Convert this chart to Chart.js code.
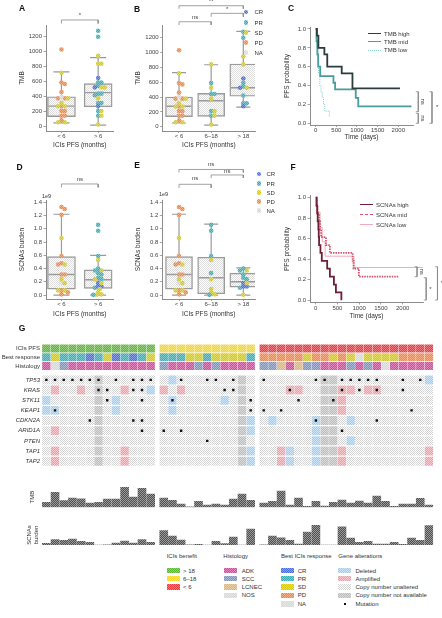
<!DOCTYPE html>
<html><head><meta charset="utf-8">
<script src="https://cdn.jsdelivr.net/npm/chart.js@4.4.1/dist/chart.umd.min.js"></script>
<style>
html,body{margin:0;padding:0;background:#fff}
body{position:relative;width:442px;height:618px;overflow:hidden;font-family:"Liberation Sans",Arial,sans-serif;color:#333}
canvas{position:absolute}
.t{position:absolute;white-space:nowrap;font-size:6px;line-height:1;color:#333}
.sw{position:absolute}
</style></head><body>
<script>
// ================= DATA =================
const pfsLabels = ['> 18', '6–18', '< 6'];
const pfsGroup = [0,0,0,0,0,0,0,0,0,0,0,0,0, 1,1,1,1,1,1,1,1,1,1,1, 2,2,2,2,2,2,2,2,2,2,2,2,2,2,2,2,2,2,2,2];
const bestResponse = ['PR','SD','PR','PR','PR','CR','PR','SD','CR','PR','CR','PR','SD',
  'PR','PR','PR','SD','SD','PR','SD','SD','SD','SD','PR',
  'PD','PD','PD','PD','PD','SD','PD','PD','SD','PD','SD','NA','SD','SD','SD','SD','PD','PD','PD','PD'];
const histology = ['ADK','NOS','SCC','ADK','ADK','ADK','ADK','ADK','ADK','ADK','ADK','ADK','ADK',
  'SCC','ADK','ADK','ADK','SCC','ADK','SCC','ADK','ADK','ADK','ADK',
  'SCC','SCC','LCNEC','ADK','LCNEC','SCC','SCC','ADK','ADK','ADK','SCC','ADK','SCC','ADK','NOS','ADK','ADK','ADK','ADK','ADK'];
const geneNames = ['TP53','KRAS','STK11','KEAP1','CDKN2A','ARID1A','PTEN','TAP1','TAP2'];
// copy number: U unaltered, D deleted, A amplified, N not available
const cnTP53   = 'UUUUUUNUUUUUU'+'UDUUUUUUUNU'+'UUUUUUUNNUUUUUUUUUUD';
const cnKRAS   = 'UAUUAUNUUAUUD'+'AUAUUUUUUNU'+'UUUAAUUNNAAUAAUUUUUU';
const cnSTK11  = 'DUUUUUNUDUUUU'+'UDUUUUUDUNU'+'UUUUUUUNNAUUUUUUUUUU';
const cnKEAP1  = 'DDUUUUNUDUUUU'+'UDUUUUUUUNU'+'UUUUUUUNNAUUUUUUUUUU';
const cnCDKN2A = 'UUUUUUNUUUUUU'+'UUUUUUUUUND'+'UDUUUUDNNUDUUUUUUUUU';
const cnARID1A = 'UAUUUUNUUUUUU'+'UUUUUUUUUND'+'UUUUUUDNNUUUUUUUUUUU';
const cnPTEN   = 'UUUUUUNUUUUUU'+'UUUUUUUUUNU'+'UUUUUUDNNUDUUUUUUUUU';
const cnTAP1   = 'UAUUUUNUUAUUU'+'UUUUUUUUUND'+'UUADUUDNNAUUUUUUUUUA';
const cnTAP2   = 'UAUUUUNUUAUUU'+'UUUUUUUUUND'+'UUADUUDNNAUUUUUUUUUA';
// mutated patients (column index)
const mutTP53   = [0,1,2,3,4,5,6,8,10,11,12,15,18,19,21,24,30,31,33,34,35,36,37,40,42];
const mutKRAS   = [6,7,10,11,20,21,27,33,35,37,40];
const mutSTK11  = [7,11,14,23,28,32];
const mutKEAP1  = [1,23,24,26,41];
const mutCDKN2A = [5,10,11,30,37];
const mutARID1A = [11,13,15,33];
const mutPTEN   = [18];
const mutTAP1   = [];
const mutTAP2   = [];
const tmb = [315,945,420,590,545,275,315,525,525,1280,650,1200,840,
  588,441,210,30,378,147,210,147,525,840,441,
  273,378,1030,147,588,60,378,84,315,462,273,399,273,720,378,60,210,210,570,147];
const scna = [0.11,0.37,0.31,0.40,0.24,0.18,null,0.005,0.13,0.26,0.13,0.37,0.18,
  0.97,0.59,0.33,0.01,0.04,0.003,0.24,0.09,0.53,null,1.06,
  0.01,0.59,0.48,0.31,0.07,0.86,1.33,null,null,1.21,0.46,0.18,0.24,0.07,0.07,0.18,0.04,0.46,0.31,1.30];
// box statistics
const catsTwo = ['< 6','> 6'];
const catsThree = ['< 6','6–18','> 18'];
const tmbTwoLo=[50,20], tmbTwoQ1=[135,265], tmbTwoMed=[275,455], tmbTwoQ3=[400,575], tmbTwoHi=[730,920];
const tmbThreeLo=[50,20,265], tmbThreeQ1=[135,140,410], tmbThreeMed=[275,350,525], tmbThreeQ3=[400,450,845], tmbThreeHi=[730,835,1285];
const scnaTwoLo=[0,0], scnaTwoQ1=[0.09,0.10], scnaTwoMed=[0.31,0.23], scnaTwoQ3=[0.58,0.38], scnaTwoHi=[1.22,0.60];
const scnaThreeLo=[0,0,0], scnaThreeQ1=[0.09,0.02,0.12], scnaThreeMed=[0.31,0.26,0.20], scnaThreeQ3=[0.58,0.57,0.33], scnaThreeHi=[1.22,1.07,0.41];
const tmbTicks=[0,200,400,600,800,1000,1200];
const scnaTicks=[0,0.2,0.4,0.6,0.8,1.0,1.2,1.4];
const survTicks=[0,0.2,0.4,0.6,0.8,1.0];
const timeTicks=[0,500,1000,1500,2000];
// Kaplan-Meier curves
const tmbHighTime=[0,30,65,210,280,630,890,2040];
const tmbHighSurv=[1,0.93,0.8,0.73,0.6,0.53,0.37,0.37];
const tmbMidTime=[0,20,40,60,110,430,470,970,1030,2320];
const tmbMidSurv=[1,0.87,0.73,0.6,0.5,0.43,0.36,0.27,0.18,0.18];
const tmbLowTime=[0,15,30,50,70,100,130,160,190,220,330,350];
const tmbLowSurv=[1,0.9,0.8,0.67,0.53,0.4,0.33,0.27,0.2,0.13,0.07,0.07];
const scnaHighTime=[0,20,35,46,62,70,78,109,140,264,326,419,465,590];
const scnaHighSurv=[1,0.923,0.846,0.769,0.692,0.615,0.538,0.462,0.385,0.308,0.231,0.154,0.077,0];
const scnaMidTime=[0,20,40,80,100,125,235,326,850,870,992,1922];
const scnaMidSurv=[1,0.923,0.846,0.769,0.692,0.615,0.538,0.462,0.385,0.308,0.231,0.231];
const scnaLowTime=[0,40,100,150,217,880,2465];
const scnaLowSurv=[1,0.86,0.71,0.57,0.43,0.32,0.32];

// ================= STYLE =================
const FONT='"Liberation Sans", Arial, Helvetica, sans-serif';
Chart.defaults.font.family=FONT;
Chart.defaults.color='#444';
Chart.defaults.animation=false;
Chart.defaults.events=[];
Chart.defaults.plugins.legend.display=false;
Chart.defaults.plugins.tooltip.enabled=false;
const AX='#8c8c8c', BOXC='#9a9a9a';
const pfsColors=['#5db536','#f3d52c','#e8373d'];
const respColors={CR:'#4a6fd8',PR:'#3aaeb3',SD:'#d5ca10',PD:'#ef8743',NA:'#d8d8d8'};
const histColors={ADK:'#d5499c',SCC:'#7d93c0',LCNEC:'#ddb574',NOS:'#d8d8d8'};

function mix(hex,t){const n=parseInt(hex.slice(1),16);let r=n>>16,g=(n>>8)&255,b=n&255;
  r=Math.round(r+(255-r)*t);g=Math.round(g+(255-g)*t);b=Math.round(b+(255-b)*t);
  return '#'+((1<<24)|(r<<16)|(g<<8)|b).toString(16).slice(1);}
const patCache={};
function pat(c1,c2){const k=c1+c2;if(!patCache[k]){const cv=document.createElement('canvas');cv.width=cv.height=2;
  const x=cv.getContext('2d');x.fillStyle=c1;x.fillRect(0,0,2,2);x.fillStyle=c2;x.fillRect(0,0,1,1);x.fillRect(1,1,1,1);
  patCache[k]={p:x.createPattern(cv,'repeat'),url:cv.toDataURL()};}return patCache[k];}
function cpat(c){return pat(c,mix(c,0.35));}
const cnPat={U:pat('#ffffff','#d2d2d2'),D:pat('#9ecdf1','#cde5f8'),A:pat('#f3999f','#f9cbd0'),N:pat('#bdbdbd','#dadada')};
const boxPat=pat('#ffffff','#dddddd').p;
const barPat=pat('#4f4f4f','#9a9a9a');

// ================= HELPERS =================
function mkCanvas(l,t,w,h){const c=document.createElement('canvas');c.width=w;c.height=h;
  c.style.left=l+'px';c.style.top=t+'px';c.style.width=w+'px';c.style.height=h+'px';document.body.appendChild(c);return c;}
function geom(o){return {padding:{left:0,top:o.area.t-o.t,right:o.l+o.w-o.area.r,bottom:0},yW:o.area.l-o.l,xH:o.t+o.h-o.area.b};}
function txt(x,y,s,o={}){const d=document.createElement('div');d.className='t';d.textContent=s;
  d.style.left=x+'px';d.style.top=y+'px';
  d.style.transform=o.align==='center'?'translate(-50%,-50%)':o.align==='right'?'translate(-100%,-50%)':'translateY(-50%)';
  if(o.size)d.style.fontSize=o.size+'px';if(o.bold)d.style.fontWeight='bold';if(o.italic)d.style.fontStyle='italic';
  if(o.color)d.style.color=o.color;document.body.appendChild(d);return d;}
function box(x,y,w,h,css){const d=document.createElement('div');d.className='sw';d.style.left=x+'px';d.style.top=y+'px';
  d.style.width=w+'px';d.style.height=h+'px';Object.assign(d.style,css);document.body.appendChild(d);return d;}
const notesPlugin={id:'notes',afterDatasetsDraw(chart,args,opts){const ctx=chart.ctx,xs=chart.scales.x,ys=chart.scales.y;
  (opts.items||[]).forEach(n=>{ctx.save();ctx.font=(n.size||6.5)+'px '+FONT;ctx.fillStyle='#444';ctx.textAlign='center';ctx.textBaseline='middle';
    ctx.translate(xs.getPixelForValue(n.x),ys.getPixelForValue(n.y));if(n.rot)ctx.rotate(n.rot);ctx.fillText(n.text,0,0);ctx.restore();});}};
function swarm(vals,pxY,pxX,r){const placed=[],out=new Array(vals.length);
  const order=vals.map((v,i)=>i).sort((a,b)=>vals[b]-vals[a]);
  for(const i of order){const y=vals[i]*pxY;let off=0;
    for(let n=0;n<30;n++){const c=n===0?0:(n%2?1:-1)*Math.ceil(n/2)*r*0.7;
      if(placed.every(p=>Math.hypot(p.x-c,p.y-y)>=r*1.15)){off=c;break;}}
    placed.push({x:off,y});out[i]=off/pxX;}
  return out;}
function yAxis(o,G,ticks,fmt,title,tpad){return {type:'linear',min:o.ymin,max:o.ymax,
  afterFit:s=>{s.width=G.yW;},afterBuildTicks:s=>{s.ticks=ticks.map(v=>({value:v}));},
  border:{display:true,color:AX,dash:[1,1],width:1},
  grid:{display:true,drawOnChartArea:false,drawTicks:true,tickLength:2.5,color:AX,lineWidth:0.8},
  ticks:{font:{size:6},color:'#444',padding:1.5,callback:fmt,autoSkip:false},
  title:{display:true,text:title,font:{size:6.5},color:'#333',padding:{top:tpad,bottom:0}}};}
function xAxis(o,G,ticks,fmt,title,bpad){return {type:'linear',min:o.xmin,max:o.xmax,offset:false,
  afterFit:s=>{s.height=G.xH;},afterBuildTicks:s=>{s.ticks=ticks.map(v=>({value:v}));},
  border:{display:true,color:AX,dash:[1,1],width:1},
  grid:{display:true,offset:false,drawOnChartArea:false,drawTicks:true,tickLength:2,color:AX,lineWidth:0.8},
  ticks:{font:{size:6},color:'#444',padding:0,callback:fmt,autoSkip:false,maxRotation:0},
  title:{display:true,text:title,font:{size:6.5},color:'#333',padding:{top:0,bottom:bpad}}};}

function boxChart(o){
  const cv=mkCanvas(o.l,o.t,o.w,o.h),G=geom(o);
  const pxY=(o.area.b-o.area.t)/(o.ymax-o.ymin),pxX=(o.area.r-o.area.l)/(o.xmax-o.xmin);
  const ds=[];
  const wh=[];o.lo.forEach((v,i)=>{wh.push({x:i,y:v},{x:i,y:o.hi[i]},{x:i,y:null});});
  ds.push({type:'line',data:wh,borderColor:BOXC,borderWidth:1.2,pointRadius:0,spanGaps:false,order:6});
  ds.push({type:'bar',data:o.q1.map((v,i)=>({x:i,y:[v,o.q3[i]]})),backgroundColor:boxPat,borderColor:BOXC,borderWidth:1.4,borderSkipped:false,barThickness:o.boxW,order:5});
  ds.push({type:'scatter',data:o.med.map((v,i)=>({x:i,y:v})),pointStyle:'line',pointRadius:o.boxW/2-1,pointBorderColor:BOXC,pointBorderWidth:1.4,order:4});
  ds.push({type:'scatter',data:[...o.lo.map((v,i)=>({x:i,y:v})),...o.hi.map((v,i)=>({x:i,y:v}))],pointStyle:'line',pointRadius:o.capW/2,pointBorderColor:BOXC,pointBorderWidth:1.2,order:4});
  const pts=[],cols=[];
  o.groups.forEach((idx,gi)=>{const ids=idx.filter(i=>o.values[i]!==null);const vals=ids.map(i=>o.values[i]);
    const offs=swarm(vals,pxY,pxX,2.4);
    ids.forEach((pi,k)=>{pts.push({x:gi+offs[k],y:o.values[pi]});cols.push(cpat(respColors[bestResponse[pi]]).p);});});
  ds.push({type:'scatter',data:pts,pointRadius:2.3,pointBackgroundColor:cols,pointBorderWidth:0,order:1});
  const notes=[];
  o.brackets.forEach(b=>{ds.push({type:'line',data:[{x:b.from,y:b.drop},{x:b.from,y:b.y},{x:b.to,y:b.y},{x:b.to,y:b.drop}],
    borderColor:'#8a8a8a',borderWidth:0.8,pointRadius:0,clip:false,order:0});
    notes.push({x:(b.from+b.to)/2,y:b.ty,text:b.text,size:6});});
  new Chart(cv,{type:'scatter',data:{datasets:ds},plugins:[notesPlugin],
    options:{responsive:false,maintainAspectRatio:false,devicePixelRatio:1,animation:false,layout:{padding:G.padding},
      plugins:{notes:{items:notes}},
      scales:{x:xAxis(o,G,o.cats.map((c,i)=>i),v=>o.cats[v],'ICIs PFS (months)',o.xpad),
              y:yAxis(o,G,o.yticks,o.yfmt,o.ytitle,o.ytpad)}}});
}
function kmChart(o){
  const cv=mkCanvas(o.l,o.t,o.w,o.h),G=geom(o);
  const ds=o.series.map(s=>({type:'line',data:s.t.map((t,i)=>({x:t,y:s.s[i]})),stepped:'before',borderColor:s.color,
    borderWidth:s.width,borderDash:s.dash||[],pointRadius:0,fill:false,order:2}));
  const notes=[];
  o.brackets.forEach(b=>{ds.push({type:'line',data:[{x:b.x-b.tk,y:b.y0},{x:b.x,y:b.y0},{x:b.x,y:b.y1},{x:b.x-b.tk,y:b.y1}],
    borderColor:'#8a8a8a',borderWidth:0.8,pointRadius:0,clip:false,order:0});
    notes.push({x:b.tx,y:b.ty,text:b.text,rot:b.text==='ns'?Math.PI/2:0,size:6});});
  new Chart(cv,{type:'scatter',data:{datasets:ds},plugins:[notesPlugin],
    options:{responsive:false,maintainAspectRatio:false,devicePixelRatio:1,animation:false,layout:{padding:G.padding},
      plugins:{notes:{items:notes}},
      scales:{x:xAxis(o,G,timeTicks,v=>String(v),'Time (days)',o.xpad),
              y:yAxis(o,G,survTicks,v=>v.toFixed(1),'PFS probability',o.ytpad)}}});
}

// ================= PANELS A, B, D, E =================
const idxLt6=pfsGroup.map((g,i)=>g===2?i:-1).filter(i=>i>=0);
const idx618=pfsGroup.map((g,i)=>g===1?i:-1).filter(i=>i>=0);
const idxGt18=pfsGroup.map((g,i)=>g===0?i:-1).filter(i=>i>=0);
const idxGt6=[...idxGt18,...idx618];
boxChart({l:0,t:0,w:128,h:150,area:{l:46,r:116,t:25,b:131},xmin:-0.421,xmax:1.421,ymin:-57,ymax:1356,
  cats:catsTwo,lo:tmbTwoLo,q1:tmbTwoQ1,med:tmbTwoMed,q3:tmbTwoQ3,hi:tmbTwoHi,boxW:28,capW:16,
  values:tmb,groups:[idxLt6,idxGt6],yticks:tmbTicks,yfmt:v=>String(v),ytitle:'TMB',ytpad:18,xpad:0.5,
  brackets:[{from:0,to:1,y:1423,drop:1376,ty:1482,text:'*'}]});
boxChart({l:128,t:0,w:152,h:150,area:{l:162.7,r:255,t:25,b:131},xmin:-0.507,xmax:2.364,ymin:-58,ymax:1371,
  cats:catsThree,lo:tmbThreeLo,q1:tmbThreeQ1,med:tmbThreeMed,q3:tmbThreeQ3,hi:tmbThreeHi,boxW:27,capW:14,
  values:tmb,groups:[idxLt6,idx618,idxGt18],yticks:tmbTicks,yfmt:v=>String(v),ytitle:'TMB',ytpad:6,xpad:0.5,
  brackets:[{from:0,to:1,y:1415,drop:1371,ty:1478,text:'ns'},{from:1,to:2,y:1528,drop:1482,ty:1585,text:'*'},{from:0,to:2,y:1631,drop:1590,ty:1688,text:'**'}]});
boxChart({l:0,t:150,w:128,h:170,area:{l:46,r:116,t:200,b:299},xmin:-0.421,xmax:1.421,ymin:-0.06,ymax:1.435,
  cats:catsTwo,lo:scnaTwoLo,q1:scnaTwoQ1,med:scnaTwoMed,q3:scnaTwoQ3,hi:scnaTwoHi,boxW:28,capW:16,
  values:scna,groups:[idxLt6,idxGt6],yticks:scnaTicks,yfmt:v=>v.toFixed(1),ytitle:'SCNAs burden',ytpad:18,xpad:1.7,
  brackets:[{from:0,to:1,y:1.677,drop:1.624,ty:1.752,text:'ns'}]});
boxChart({l:128,t:150,w:152,h:170,area:{l:162.3,r:255,t:200,b:299},xmin:-0.52,xmax:2.364,ymin:-0.06,ymax:1.435,
  cats:catsThree,lo:scnaThreeLo,q1:scnaThreeQ1,med:scnaThreeMed,q3:scnaThreeQ3,hi:scnaThreeHi,boxW:27,capW:14,
  values:scna,groups:[idxLt6,idx618,idxGt18],yticks:scnaTicks,yfmt:v=>v.toFixed(1),ytitle:'SCNAs burden',ytpad:6,xpad:1.7,
  brackets:[{from:0,to:1,y:1.672,drop:1.616,ty:1.758,text:'ns'},{from:1,to:2,y:1.813,drop:1.767,ty:1.873,text:'ns'},{from:0,to:2,y:1.896,drop:1.85,ty:1.971,text:'ns'}]});

// ================= PANELS C, F =================
kmChart({l:280,t:0,w:162,h:150,area:{l:310,r:413,t:27,b:125},xmin:-138,xmax:2356,ymin:-0.018,ymax:1.021,ytpad:3,xpad:9,
  series:[{t:tmbHighTime,s:tmbHighSurv,color:'#2c3c3c',width:1.8},
          {t:tmbMidTime,s:tmbMidSurv,color:'#4b9d9d',width:1.8},
          {t:tmbLowTime,s:tmbLowSurv,color:'#86cccc',width:1,dash:[1,1]}],
  brackets:[{x:2484,tk:60,y0:0.335,y1:0.123,tx:2600,ty:0.229,text:'ns'},
            {x:2484,tk:60,y0:0.106,y1:0.0,tx:2600,ty:0.053,text:'ns'},
            {x:2816,tk:60,y0:0.335,y1:0.0,tx:2940,ty:0.168,text:'*'}]});
kmChart({l:280,t:150,w:162,h:170,area:{l:310,r:423,t:195.5,b:302.5},xmin:-131,xmax:2467,ymin:-0.021,ymax:1.021,ytpad:3,xpad:0,
  series:[{t:scnaHighTime,s:scnaHighSurv,color:'#6c2036',width:1.8},
          {t:scnaMidTime,s:scnaMidSurv,color:'#d4526b',width:1.8,dash:[1.5,1]},
          {t:scnaLowTime,s:scnaLowSurv,color:'#f2a9b8',width:1}],
  brackets:[{x:2330,tk:55,y0:0.327,y1:0.23,tx:2430,ty:0.279,text:'ns'},
            {x:2540,tk:55,y0:0.22,y1:0.003,tx:2640,ty:0.11,text:'*'},
            {x:2800,tk:55,y0:0.327,y1:0.003,tx:2900,ty:0.165,text:'*'}]});

// ================= PANEL G heatmap =================
const colX=i=>i+0.5+pfsGroup[i]*0.5;
const annotY=[344,353.5,363], geneY=geneNames.map((g,r)=>378+11*r);
const cnRows=[cnTP53,cnKRAS,cnSTK11,cnKEAP1,cnCDKN2A,cnARID1A,cnPTEN,cnTAP1,cnTAP2];
const mutRows=[mutTP53,mutKRAS,mutSTK11,mutKEAP1,mutCDKN2A,mutARID1A,mutPTEN,mutTAP1,mutTAP2];
const rowLabels=['ICIs PFS','Best response','Histology',...geneNames];
(function(){
  const o={l:0,t:330,w:442,h:146,area:{l:42,r:433.3,t:330,b:476}};
  const cv=mkCanvas(o.l,o.t,o.w,o.h);
  const ds=[];
  const annot=[pfsGroup.map(g=>pfsColors[g]),bestResponse.map(r=>respColors[r]),histology.map(h=>histColors[h])];
  annot.forEach((cols,r)=>ds.push({type:'bar',grouped:false,barThickness:7.7,borderWidth:0,order:2,
    data:cols.map((c,i)=>({x:colX(i),y:[annotY[r]-4,annotY[r]+4]})),backgroundColor:cols.map(c=>cpat(c).p)}));
  cnRows.forEach((s,r)=>{const codes=s.split('');ds.push({type:'bar',grouped:false,barThickness:7.7,borderWidth:0,order:2,
    data:codes.map((c,i)=>({x:colX(i),y:[geneY[r]-4.5,geneY[r]+4.5]})),backgroundColor:codes.map(c=>cnPat[c].p)});});
  const mp=[];mutRows.forEach((m,r)=>m.forEach(i=>mp.push({x:colX(i),y:geneY[r]})));
  ds.push({type:'scatter',data:mp,pointStyle:'rect',pointRadius:1.7,pointBackgroundColor:'#111',pointBorderWidth:0,order:0});
  const rowTicks=[...annotY,...geneY];
  new Chart(cv,{type:'scatter',data:{datasets:ds},
    options:{responsive:false,maintainAspectRatio:false,devicePixelRatio:1,animation:false,
      layout:{padding:{left:0,top:0,right:442-433.3,bottom:0}},
      scales:{x:{type:'linear',display:false,min:0,max:45,offset:false,grid:{offset:false}},
        y:{type:'linear',reverse:true,min:330,max:476,afterFit:s=>{s.width=42;},
          afterBuildTicks:s=>{s.ticks=rowTicks.map(v=>({value:v}));},
          border:{display:false},grid:{display:false,drawTicks:false},
          ticks:{autoSkip:false,padding:2,color:'#333',callback:(v,i)=>rowLabels[i],
            font:c=>({size:6,style:c.index>=3?'italic':'normal'})}}}}});
})();
function barRow(o,vals,title,tpad){
  const cv=mkCanvas(o.l,o.t,o.w,o.h);
  new Chart(cv,{type:'scatter',data:{datasets:[{type:'bar',data:vals.map((v,i)=>({x:colX(i),y:v===null?0:v})),
      backgroundColor:barPat.p,borderWidth:0,barThickness:8}]},
    options:{responsive:false,maintainAspectRatio:false,devicePixelRatio:1,animation:false,
      layout:{padding:{left:0,top:o.area.t-o.t,right:o.l+o.w-o.area.r,bottom:o.t+o.h-o.area.b}},
      scales:{x:{type:'linear',display:false,min:0,max:45,offset:false,grid:{offset:false}},
        y:{type:'linear',min:0,max:o.ymax,afterFit:s=>{s.width=42;},border:{display:false},grid:{display:false},
          ticks:{display:false},title:{display:true,text:title,color:'#333',font:{size:6,lineHeight:1.1},padding:{top:tpad,bottom:0}}}}}});
}
barRow({l:0,t:480,w:442,h:30,area:{l:42,r:433.3,t:487,b:507.3},ymax:1290},tmb,'TMB',29);
barRow({l:0,t:518,w:442,h:30,area:{l:42,r:433.3,t:525,b:545},ymax:1.34},scna,['SCNAs','burden'],26);

// ================= TEXT / LEGENDS =================
[['A',22,8.3],['B',137,9],['C',291,8],['D',19.5,167],['E',137,165],['F',293,167],['G',22,328]].forEach(a=>txt(a[1],a[2],a[0],{align:'center',bold:true,size:8.5,color:'#111'}));
txt(42,197,'1e9',{size:5.5});txt(159,195,'1e9',{size:5.5});
const respOrder=['CR','PR','SD','PD','NA'];
function respLegend(dx,tx,ys){respOrder.forEach((r,i)=>{box(dx-2.4,ys[i]-2.4,4.8,4.8,{borderRadius:'50%',backgroundImage:'url('+cpat(respColors[r]).url+')'});txt(tx,ys[i],r);});}
respLegend(246,254.5,[12,22.7,32.7,42.7,52.7]);
respLegend(259,266.5,[174,183.5,192.5,201.5,210.5]);
function lineLegend(x0,x1,tx,ys,items){items.forEach((it,i)=>{box(x0,ys[i]-it.w/2,x1-x0,0,{borderTop:it.w+'px '+(it.style||'solid')+' '+it.color});txt(tx,ys[i],it.label);});}
lineLegend(368,381,384,[34.3,42.3,50],[{label:'TMB high',color:'#2c3c3c',w:1.8},{label:'TMB mid',color:'#4b9d9d',w:1.8},{label:'TMB low',color:'#86cccc',w:1,style:'dotted'}]);
lineLegend(360,373,376,[205,215,224.5],[{label:'SCNAs high',color:'#6c2036',w:1.8},{label:'SCNAs mid',color:'#d4526b',w:1.8,style:'dashed'},{label:'SCNAs low',color:'#f2a9b8',w:1}]);
// bottom legend
const lgY=[570.7,578.7,587,595.3,604];
txt(166.7,556,'ICIs benefit');txt(223.3,556,'Histology');txt(281,556,'Best ICIs response');txt(338.3,556,'Gene alterations');
function sw(x,y,url){box(x,y-2.8,13,5.6,{backgroundImage:'url('+url+')'});}
pfsLabels.forEach((l,i)=>{sw(167,lgY[i],cpat(pfsColors[i]).url);txt(183,lgY[i],l);});
['ADK','SCC','LCNEC','NOS'].forEach((h,i)=>{sw(223.5,lgY[i],cpat(histColors[h]).url);txt(241.7,lgY[i],h);});
respOrder.forEach((r,i)=>{sw(281,lgY[i],cpat(respColors[r]).url);txt(297.7,lgY[i],r);});
[['Deleted','D'],['Amplified','A'],['Copy number unaltered','U'],['Copy number not available','N']].forEach((g,i)=>{sw(338.3,lgY[i],cnPat[g[1]].url);txt(355.5,lgY[i],g[0]);});
box(343.5,lgY[4]-1.2,2.4,2.4,{background:'#111'});txt(355.5,lgY[4],'Mutation');
</script></body></html>
